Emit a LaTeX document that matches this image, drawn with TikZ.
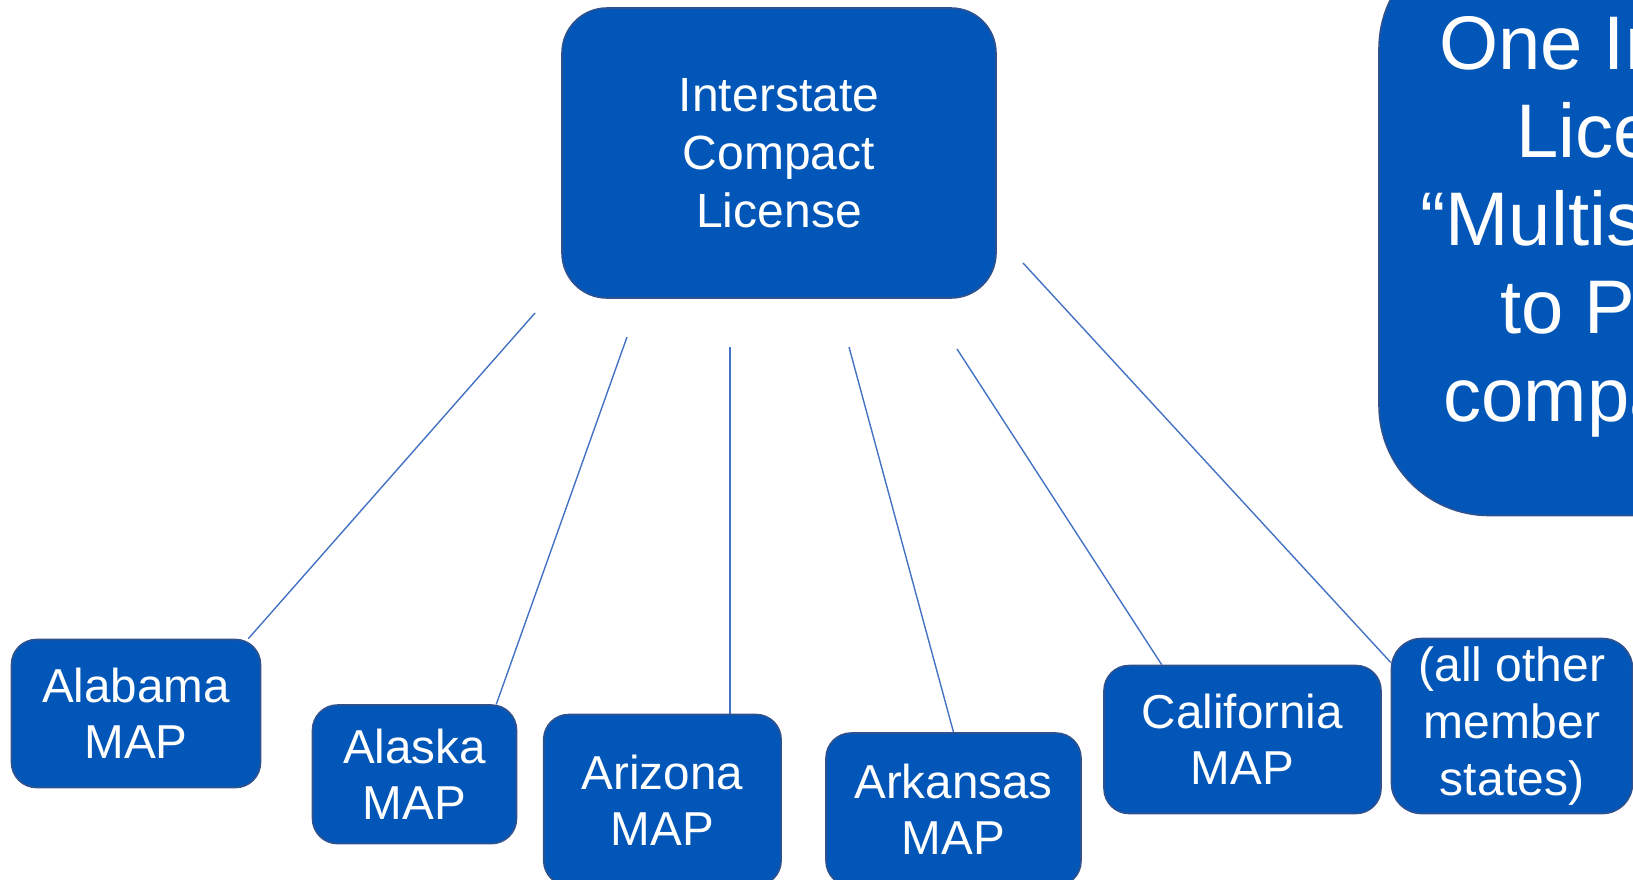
\documentclass[tikz,border=0pt]{standalone}
\usepackage{fontspec}
\setmainfont{Liberation Sans}
\usetikzlibrary{backgrounds,calc,positioning}
\definecolor{MapBlue}{HTML}{0256B8}
\definecolor{MapEdge}{HTML}{2F528F}
\definecolor{MapLine}{HTML}{4472C4}
\tikzset{
  mapbox/.style={
    rounded corners=12.5pt,
    draw=MapEdge,
    fill=MapBlue,
    line width=.8pt,
    text=white,
    align=center,
    inner sep=0pt,
    font=\fontsize{23.8}{28}\selectfont
  },
  licensebox/.style={mapbox,rounded corners=22.5pt,font=\fontsize{24}{29}\selectfont},
  notebox/.style={mapbox,rounded corners=55pt,font=\fontsize{38}{44}\selectfont},
  link/.style={draw=MapLine,line width=.7pt}
}

\begin{document}
\begin{tikzpicture}[x=.5pt,y=-.5pt]
  \useasboundingbox (0,0) rectangle (1633,879);

  % Compact license on top, its note box running off the right edge.
  \node[licensebox,minimum width=217pt,minimum height=145pt] (compact) at (779,153)
    {Interstate\\Compact\\License};
  \node[notebox,minimum width=301pt,minimum height=288.5pt] (note) at (1680,227)
    {One Interstate\\License =\\“Multistate” use\\to Practice\\compact state};

  % Member state MAP boxes.
  \node[mapbox,minimum width=124.5pt,minimum height=74pt] (alabama) at (136,713.5) {Alabama\\MAP};
  \node[mapbox,minimum width=102pt,minimum height=69.3pt] (alaska) at (414.5,774.3) {Alaska\\MAP};
  \node[mapbox,minimum width=118.7pt,minimum height=85.5pt] (arizona) at (662.4,800) {Arizona\\MAP};
  \node[mapbox,minimum width=127.5pt,minimum height=76.5pt] (arkansas) at (953.5,809.5) {Arkansas\\MAP};
  \node[mapbox,minimum width=138.5pt,minimum height=74pt] (california) at (1242.5,739.5) {California\\MAP};
  \node[mapbox,rounded corners=15pt,minimum width=120.5pt,minimum height=87.5pt,
    font=\fontsize{24}{28.6}\selectfont] (others) at (1512,726) {(all other\\member\\states)};

  % Loose line ends under the license box.
  \coordinate (s1) at (535,313);
  \coordinate (s2) at (627,337);
  \coordinate (s3) at (730,347);
  \coordinate (s4) at (849,347);
  \coordinate (s5) at (957,349);
  \coordinate (s6) at (1023,263);

  \begin{scope}[on background layer]
    \draw[link] (s1) -- ($(alabama.north east)+(-13,0)$);
    \draw[link] (s2) -- ($(alaska.north east)+(-21,0)$);
    \draw[link] (s3) -- (s3 |- arizona.north);
    \draw[link] (s4) -- (arkansas.north);
    \draw[link] (s5) -- ($(california.north west)!.21!(california.north east)$);
    \draw[link] (s6) -- ($(others.north west)!.14!(others.south west)$);
  \end{scope}
\end{tikzpicture}
\end{document}
